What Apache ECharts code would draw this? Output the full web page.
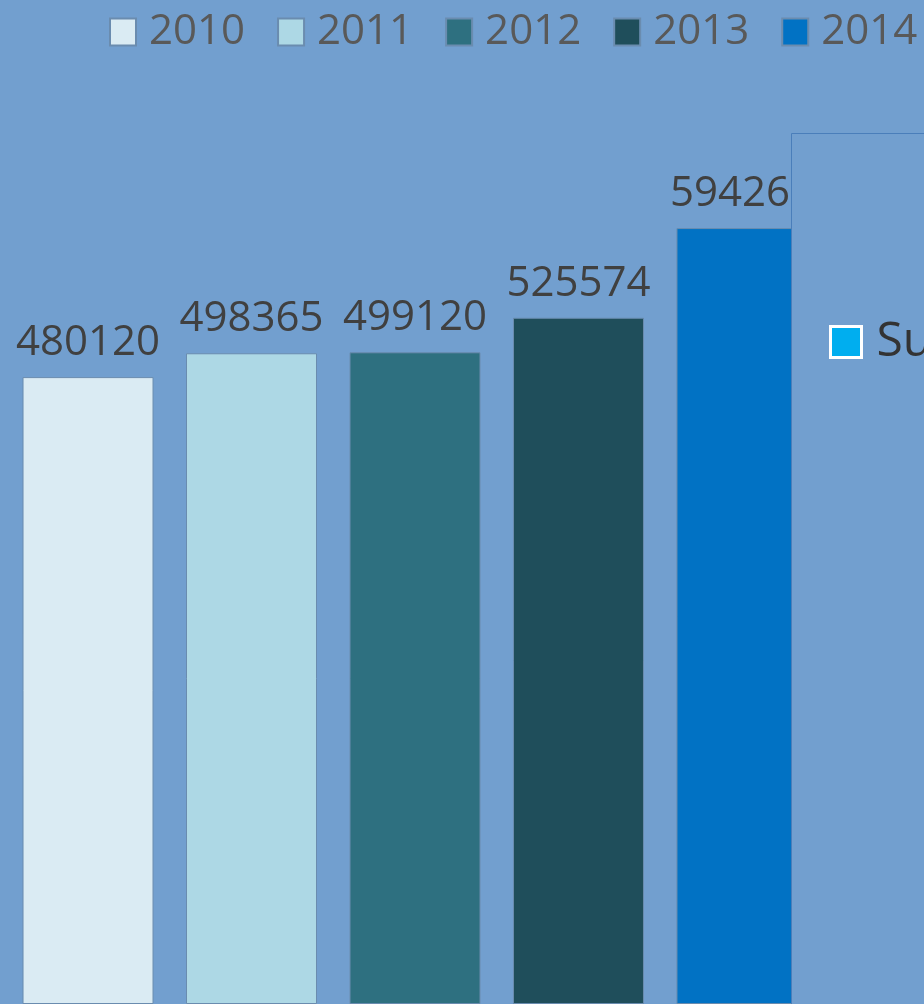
<!DOCTYPE html>
<html>
<head>
<meta charset="utf-8">
<script src="https://cdn.jsdelivr.net/npm/echarts@6/dist/echarts.min.js"></script>
<style>
html,body{margin:0;padding:0;background:#729FCF;}
#chart{width:924px;height:1004px;}
</style>
</head>
<body>
<div id="chart"></div>
<script>
var years = ['2010', '2011', '2012', '2013', '2014'];
var values = [480120, 498365, 499120, 525574, 594260];
var colors = ['#DAEBF3', '#ADD8E5', '#2E7080', '#1F4E5B', '#0172C4'];
var category = ['Total'];
var extraLegend = 'Sum';

var bg = '#729FCF';
var series = years.map(function (y, i) {
  return {
    name: y,
    type: 'bar',
    data: [values[i]],
    barWidth: 131,
    barGap: '24.8%',
    itemStyle: { color: colors[i], borderColor: '#6A8CAF', borderWidth: 1 },
    label: {
      show: true,
      position: 'top',
      distance: 13,
      color: '#404040',
      fontFamily: 'Open Sans',
      fontSize: 42
    }
  };
});
series.push({ name: extraLegend, type: 'line', data: [], itemStyle: { color: '#00AEEF' } });

var chart = echarts.init(document.getElementById('chart'), null, { renderer: 'canvas' });
chart.setOption({
  backgroundColor: bg,
  animation: false,
  grid: { left: 0, right: 94, top: 90, bottom: -10, containLabel: false },
  xAxis: { type: 'category', data: category, show: false },
  yAxis: { type: 'value', min: 0, max: 700000, show: false, splitLine: { show: false } },
  legend: [{
    data: years,
    left: 109,
    top: 11,
    width: 1200,
    padding: 0,
    icon: 'rect',
    itemWidth: 26,
    itemHeight: 27,
    itemGap: 32,
    textStyle: { color: '#595959', fontFamily: 'Open Sans', fontSize: 42, lineHeight: 27, padding: [0, 0, 0, 8] }
  }, {
    data: [{ name: extraLegend, icon: 'rect', itemStyle: { color: '#00AEEF', borderColor: '#FFFFFF', borderWidth: 3 } }],
    left: 829,
    top: 318,
    width: 600,
    padding: 0,
    z: 200,
    itemWidth: 31,
    itemHeight: 31,
    selectedMode: false,
    textStyle: { color: '#333333', fontFamily: 'Open Sans', fontSize: 48, lineHeight: 31, padding: [0, 0, 0, 10] }
  }],
  graphic: [{
    type: 'rect',
    z: 100,
    shape: { x: 791.5, y: 133.5, width: 300, height: 1000 },
    style: { fill: bg, stroke: '#4A7EBA', lineWidth: 1 }
  }],
  series: series
});
</script>
</body>
</html>
